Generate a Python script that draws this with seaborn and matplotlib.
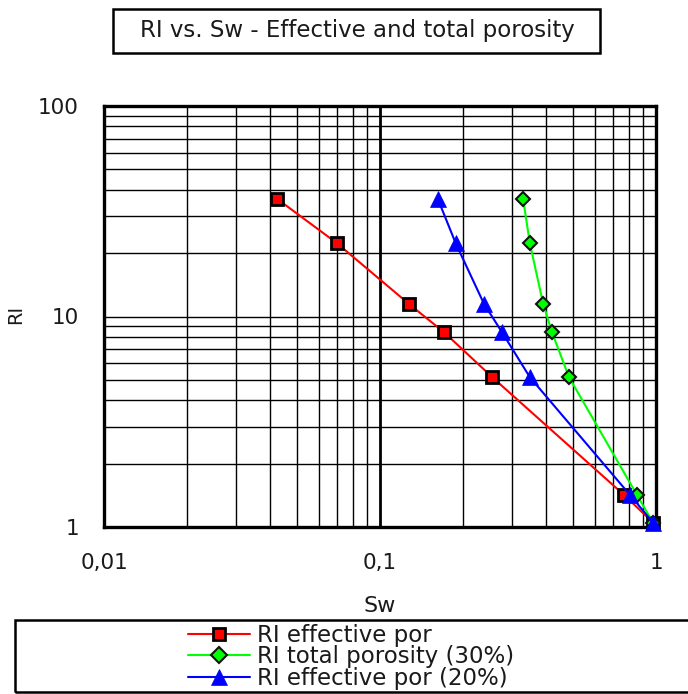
import numpy as np
import pandas as pd
import matplotlib
matplotlib.use("Agg")
import matplotlib.pyplot as plt
from matplotlib.patches import Rectangle
from matplotlib.lines import Line2D
import seaborn as sns

# Resistivity index vs. water saturation
ri_values = [36.2, 22.3, 11.5, 8.4, 5.15, 1.42, 1.05]
sw_effective = [0.0424, 0.0698, 0.127, 0.171, 0.255, 0.766, 0.975]
sw_total_30 = [0.330, 0.349, 0.390, 0.420, 0.484, 0.853, 0.975]
sw_effective_20 = [0.162, 0.188, 0.238, 0.277, 0.349, 0.805, 0.975]

series_names = ["RI effective por", "RI total porosity (30%)", "RI effective por (20%)"]
x_ticks = [0.01, 0.1, 1]
x_tick_labels = ["0,01", "0,1", "1"]
y_ticks = [1, 10, 100]
y_tick_labels = ["1", "10", "100"]

sns.set_theme(style="white")
plt.rcParams["font.family"] = ["DejaVu Sans"]

df = pd.concat([
    pd.DataFrame({"Sw": sw_effective, "RI": ri_values, "series": series_names[0]}),
    pd.DataFrame({"Sw": sw_total_30, "RI": ri_values, "series": series_names[1]}),
    pd.DataFrame({"Sw": sw_effective_20, "RI": ri_values, "series": series_names[2]}),
])

W, H = 688, 694
fig = plt.figure(figsize=(W / 100, H / 100), dpi=100)
ax = fig.add_axes([104 / W, 1 - 527 / H, 552 / W, 421 / H])

ax.set_xscale("log")
ax.set_yscale("log")
ax.set_xlim(0.01, 1)
ax.set_ylim(1, 100)

# grid: every decade subdivision in black
for dec in (0.01, 0.1):
    for k in range(2, 10):
        ax.axvline(dec * k, color="black", lw=1.0, zorder=1)
for dec in (1, 10):
    for k in range(2, 10):
        ax.axhline(dec * k, color="black", lw=1.0, zorder=1)
ax.axvline(0.1, color="black", lw=2.0, zorder=1)
ax.axhline(10, color="black", lw=1.0, zorder=1)

styles = {
    series_names[0]: dict(color="#ff0000", marker="s", ms=8, mfc="#ff0000", mec="black", mew=2.0),
    series_names[1]: dict(color="#00ff00", marker="D", ms=7.5, mfc="#00ff00", mec="#111111", mew=1.5),
    series_names[2]: dict(color="#0000ff", marker="^", ms=11, mfc="#0000ff", mec="#0000ff", mew=0.5),
}

for name in series_names:
    st = styles[name]
    sub = df[df["series"] == name]
    sns.lineplot(data=sub, x="Sw", y="RI", ax=ax, color=st["color"], lw=1.5,
                 marker=st["marker"], markersize=st["ms"], markerfacecolor=st["mfc"],
                 markeredgecolor=st["mec"], markeredgewidth=st["mew"],
                 estimator=None, sort=False, legend=False, zorder=3, clip_on=False)

for sp in ax.spines.values():
    sp.set_color("black")
    sp.set_linewidth(2.4)
    sp.set_visible(True)

ax.xaxis.set_major_locator(matplotlib.ticker.FixedLocator(x_ticks))
ax.xaxis.set_major_formatter(matplotlib.ticker.FixedFormatter(x_tick_labels))
ax.xaxis.set_minor_locator(matplotlib.ticker.NullLocator())
ax.yaxis.set_major_locator(matplotlib.ticker.FixedLocator(y_ticks))
ax.yaxis.set_major_formatter(matplotlib.ticker.FixedFormatter(y_tick_labels))
ax.yaxis.set_minor_locator(matplotlib.ticker.NullLocator())
ax.tick_params(axis="x", length=0, pad=19, labelsize=15.5, colors="#1a1a1a")
ax.tick_params(axis="y", length=0, pad=18, labelsize=15.5, colors="#1a1a1a")
ax.set_xlabel("Sw", fontsize=16, labelpad=16, color="#1a1a1a")
ax.set_ylabel("RI", fontsize=14, labelpad=14, color="#1a1a1a")
ax.yaxis.set_label_coords(-(104 - 25) / 552, 0.505)

# title in a box
fig.patches.append(Rectangle((113 / W, 1 - 53 / H), 487 / W, 44 / H,
                             transform=fig.transFigure, fill=False, ec="black", lw=1.8))
fig.text(357 / W, 1 - 31 / H, "RI vs. Sw - Effective and total porosity",
         ha="center", va="center", fontsize=16.5, color="#1a1a1a")

# legend box
fig.patches.append(Rectangle((15 / W, 1 - 692 / H), 700 / W, 72 / H,
                             transform=fig.transFigure, fill=False, ec="black", lw=1.8))
handles = [Line2D([], [], color=styles[n]["color"], lw=1.5, marker=styles[n]["marker"],
                  markersize=styles[n]["ms"] * 1.05, markerfacecolor=styles[n]["mfc"],
                  markeredgecolor=styles[n]["mec"], markeredgewidth=styles[n]["mew"])
           for n in series_names]
leg = fig.legend(handles, series_names, loc="upper left",
                 bbox_to_anchor=(188 / W, 1 - 624 / H),
                 frameon=False, fontsize=16.5, handlelength=2.7, handletextpad=0.3,
                 labelspacing=-0.07, borderpad=0, borderaxespad=0)
for t in leg.get_texts():
    t.set_color("#1a1a1a")

fig.savefig("out.png", dpi=100, facecolor="white")
